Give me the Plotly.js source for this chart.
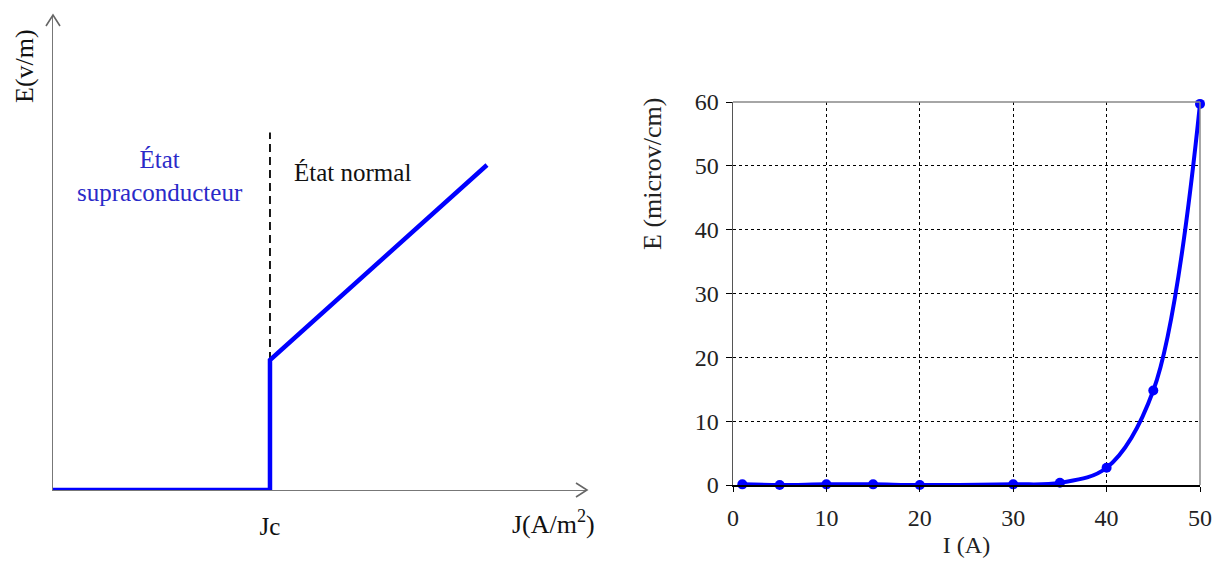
<!DOCTYPE html>
<html><head><meta charset="utf-8">
<script src="https://cdn.plot.ly/plotly-3.0.1.min.js"></script>
<style>html,body{margin:0;padding:0;background:#fff}</style>
</head><body><div id="chart" style="width:1220px;height:561px"></div>
<script>
// ---- Left schematic: E(J) with Jc normalised to 1 ----
const schemJ = [0, 1, 1, 1.04, 2.0];
const schemE = [0, 0, 1, 1.06, 2.5];
const jcTickVals = [1];
const jcTickText = ['Jc'];
const dashJ = [1, 1];
const dashE = [0, 2.75];
const jMax = 2.461, eMax = 3.654;

// ---- Right: measured E(I) ----
const currentA = [1, 5, 10, 15, 20, 30, 35, 40, 45, 50];
const fieldE = [0.1, 0, 0.1, 0.1, 0, 0.1, 0.35, 2.7, 14.8, 59.7];
const xTicks = [0, 10, 20, 30, 40, 50];
const yTicks = [0, 10, 20, 30, 40, 50, 60];

const serif = 'Liberation Serif, Times New Roman, serif';
const BLUE = '#0000ff';

const leftX = [53/1220, 587/1220];
const leftY = [71/561, 546/561];

const traces = [
  {x: dashJ, y: dashE, xaxis: 'x', yaxis: 'y', mode: 'lines',
   line: {color: '#000', width: 1.8, dash: '8px,5px'}, hoverinfo: 'skip', showlegend: false},
  {x: schemJ, y: schemE, xaxis: 'x', yaxis: 'y', mode: 'lines',
   line: {color: BLUE, width: 4.5}, showlegend: false, cliponaxis: false},
  {x: currentA, y: fieldE, xaxis: 'x2', yaxis: 'y2', mode: 'lines+markers',
   line: {color: BLUE, width: 4, shape: 'spline', smoothing: 1},
   marker: {color: BLUE, size: 10}, showlegend: false, cliponaxis: false}
];

function note(px, py, text, size, color, angle) {
  return {x: px/1220, y: 1 - py/561, xref: 'paper', yref: 'paper', text: text,
          xanchor: 'center', yanchor: 'middle', showarrow: false, textangle: angle || 0,
          align: 'center', font: {family: serif, size: size, color: color}};
}

const layout = {
  width: 1220, height: 561,
  margin: {l: 0, r: 0, t: 0, b: 0},
  paper_bgcolor: '#fff', plot_bgcolor: 'rgba(0,0,0,0)',
  font: {family: serif, color: '#000', size: 22},
  showlegend: false,
  xaxis: {domain: leftX, range: [0, jMax], showgrid: false, zeroline: false,
          showline: true, linecolor: '#777', linewidth: 1.4, layer: 'below traces',
          tickvals: jcTickVals, ticktext: jcTickText, ticks: '',
          ticklabelstandoff: 14, tickfont: {family: serif, size: 25, color: '#111'}, fixedrange: true},
  yaxis: {domain: leftY, range: [0, eMax], showgrid: false, zeroline: false,
          showline: true, linecolor: '#777', linewidth: 1.4, layer: 'below traces',
          showticklabels: false, ticks: '', fixedrange: true},
  xaxis2: {domain: [733/1220, 1200/1220], range: [0, 50], tickvals: xTicks, ticks: 'outside',
           ticklen: 5, tickcolor: '#000', showline: true, linecolor: '#000', linewidth: 1.5,
           showgrid: true, gridcolor: '#000', gridwidth: 1.2, griddash: '3px,3px', zeroline: false,
           tickfont: {family: serif, size: 24, color: '#222'}, ticklabelstandoff: 6,
           title: {text: 'I (A)', font: {family: serif, size: 24, color: '#222'}, standoff: 6},
           anchor: 'y2', fixedrange: true},
  yaxis2: {domain: [76/561, 459/561], range: [0, 60], tickvals: yTicks, ticks: 'outside',
           ticklen: 6, tickcolor: '#000', showline: true, linecolor: '#555', linewidth: 1.5,
           showgrid: true, gridcolor: '#000', gridwidth: 1.2, griddash: '3px,3px', zeroline: false,
           tickfont: {family: serif, size: 24, color: '#222'}, ticklabelstandoff: 2,
           anchor: 'x2', fixedrange: true},
  shapes: [
    {type: 'line', xref: 'x2 domain', yref: 'y2 domain', x0: 0, x1: 1, y0: 1, y1: 1,
     line: {color: '#888', width: 1.5}},
    {type: 'line', xref: 'x2 domain', yref: 'y2 domain', x0: 1, x1: 1, y0: 0, y1: 1,
     line: {color: '#888', width: 1.5}},
    // open chevron arrowheads at the ends of the schematic axes
    {type: 'path', xref: 'paper', yref: 'paper', xsizemode: 'pixel', ysizemode: 'pixel',
     xanchor: leftX[1], yanchor: leftY[0], path: 'M-11,-7 L0,0 L-11,7',
     line: {color: '#666', width: 1.6}},
    {type: 'path', xref: 'paper', yref: 'paper', xsizemode: 'pixel', ysizemode: 'pixel',
     xanchor: leftX[0], yanchor: leftY[1], path: 'M-7,-11 L0,0 L7,-11',
     line: {color: '#666', width: 1.6}}
  ],
  annotations: [
    note(24, 66, 'E(v/m)', 26, '#111', -90),
    note(553, 522, 'J(A/m<sup>2</sup>)', 26, '#111'),
    note(160, 176, 'État<br>supraconducteur', 25, '#2a2ac8'),
    note(352, 172, 'État normal', 25, '#111'),
    note(652, 174, 'E (microv/cm)', 26, '#222', -90)
  ]
};

Plotly.newPlot('chart', traces, layout, {displayModeBar: false, staticPlot: true});
</script>
</body></html>
